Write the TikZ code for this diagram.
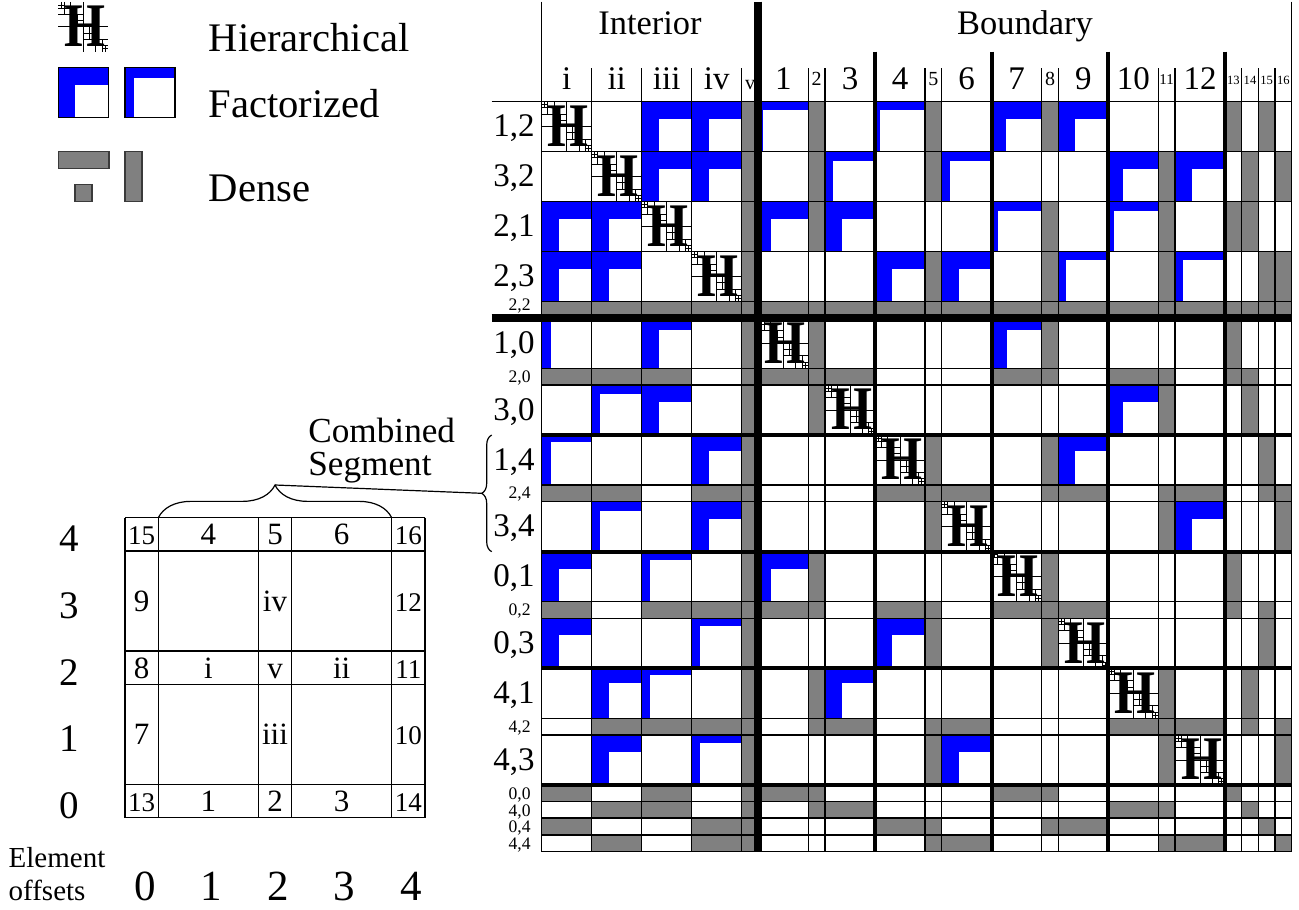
\documentclass[tikz,border=0pt]{standalone}
\usepackage{fontspec}
\setmainfont{Liberation Serif}
\usepackage{graphicx}
\usetikzlibrary{decorations.pathreplacing}
\definecolor{dgray}{HTML}{808080}
\definecolor{fblue}{HTML}{0000FF}
\definecolor{dborder}{HTML}{3A3A3A}
\tikzset{
  lbl/.style={inner sep=0pt, font=\fontsize{#1}{#1}\selectfont},
  gline/.style={line width=0.55pt, black},
  thickA/.style={line width=3.85pt, black},
  thickB/.style={line width=2pt, black},
  hpart/.style={line width=0.5pt, black},
  dense/.style={fill=dgray},
  densebox/.style={fill=dgray, draw=dborder, line width=0.6pt},
  fzbox/.style={draw=black, line width=0.6pt},
  hletter/.style={inner sep=0pt, font=\fontsize{31}{31}\selectfont\bfseries},
  bracestyle/.style={decorate, line width=0.6pt},
}
\newcommand\fz[4]{%
  \fill[fblue] (#1,#2) rectangle ++(3,3);
  \fill[white] ({#1+#4/16.667},{#2+#3/16.667}) rectangle ({#1+3},{#2+3});}
\newcommand\grow[3]{\foreach \gc/\gw in {#3}{\fill[dense] (\gc,#1) rectangle ++(\gw,#2);}}
\newcommand\hblk[3]{%
  \begin{scope}[shift={(#2,#3)}]
  \draw[hpart] (1.5,0)--(1.5,3) (0,1.5)--(3,1.5)
   (0.75,0)--(0.75,1.5) (0,0.75)--(1.5,0.75)
   (0.375,0)--(0.375,0.75) (0,0.375)--(0.75,0.375)
   (0.1875,0)--(0.1875,0.375) (0,0.1875)--(0.375,0.1875)
   (1.125,0.75)--(1.125,1.5) (0.75,1.125)--(1.5,1.125)
   (2.25,1.5)--(2.25,3) (1.5,2.25)--(3,2.25)
   (1.875,1.5)--(1.875,2.25) (1.5,1.875)--(2.25,1.875)
   (2.625,2.25)--(2.625,3) (2.25,2.625)--(3,2.625)
   (2.8125,2.625)--(2.8125,3) (2.625,2.8125)--(3,2.8125);
  \node[hletter] (#1) at (1.6,1.47) {\scalebox{0.85}[1]{H}};
  \end{scope}}
\begin{document}
\begin{tikzpicture}[x=0.5pt, y=-0.5pt]
\useasboundingbox (0,0) rectangle (1299,909);

% ---------------- legend ----------------
\begin{scope}[shift={(58.3,2)}, x=8.33333pt, y=-8.33333pt]
  \hblk{legH}{0}{0}
\end{scope}
\begin{scope}[shift={(58.3,67.7)}, x=8.33333pt, y=-8.33333pt]
  \fz{0}{0}{17}{17}
  \draw[fzbox] (0,0) rectangle (3,3);
\end{scope}
\begin{scope}[shift={(125,67.7)}, x=8.33333pt, y=-8.33333pt]
  \fz{0}{0}{10}{9}
  \draw[fzbox] (0,0) rectangle (3,3);
\end{scope}
\draw[densebox] (58.3,151.7) rectangle (109,168.3);
\draw[densebox] (75,184.3) rectangle (92,201.7);
\draw[densebox] (125,151.7) rectangle (142,201.7);
\node[lbl=20.3, anchor=base west] (tH) at (208.3,51.7) {Hierarchical};
\node[lbl=20.3, anchor=base west] (tF) at (208.3,117.3) {Factorized};
\node[lbl=20.3, anchor=base west] (tD) at (208.3,201.7) {Dense};

% ---------------- left grid ----------------
\foreach \xx in {125,158.33,258.33,291.67,391.67,425}
  \draw[gline] (\xx,517.67) -- (\xx,817.67);
\foreach \yy in {517.67,551,651,684.33,784.33,817.67}
  \draw[gline] (125,\yy) -- (425,\yy);
\foreach \xx/\yy/\t/\s in {
  141.67/544.8/15/13.5, 208.33/544.8/4/15.5, 275/544.8/5/15.5, 341.67/544.8/6/15.5, 408.33/544.8/16/13.5,
  141.67/611.5/9/15.5, 275/611.5/iv/15.5, 408.33/611.5/12/13.5,
  141.67/678.2/8/15.5, 208.33/678.2/i/15.5, 275/678.2/v/15.5, 341.67/678.2/ii/15.5, 408.33/678.2/11/13.5,
  141.67/744.8/7/15.5, 275/744.8/iii/15.5, 408.33/744.8/10/13.5,
  141.67/811.5/13/13.5, 208.33/811.5/1/15.5, 275/811.5/2/15.5, 341.67/811.5/3/15.5, 408.33/811.5/14/13.5}
  \node[lbl=\s, anchor=base] (L-\t) at (\xx,\yy) {\t};
\foreach \yy/\t in {551.6/4, 618.3/3, 685/2, 751.6/1, 818.3/0}
  \node[lbl=19.5, anchor=base] (R-\t) at (69.5,\yy) {\t};
\foreach \xx/\t in {145/0, 211.5/1, 278/2, 344.5/3, 411/4}
  \node[lbl=21.5, anchor=base] (O-\t) at (\xx,900.5) {\t};
\node[lbl=14.5, anchor=base west] (elemA) at (8.3,867.7) {Element};
\node[lbl=14.5, anchor=base west] (elemB) at (8.3,900) {offsets};
\node[lbl=17.6, anchor=base west] (combA) at (308,442.7) {Combined};
\node[lbl=17.6, anchor=base west] (combB) at (308,475) {Segment};

% braces and connector
\draw[bracestyle, decoration={brace, amplitude=16.3pt}] (158.33,517.67) -- (391.67,517.67);
\draw[bracestyle, decoration={brace, amplitude=5pt}] (491.7,551.7) -- (491.7,435);
\coordinate (tipH) at (275,485);
\coordinate (tipV) at (481.7,493.3);
\draw[line width=0.6pt] (tipH) -- (tipV);

% ---------------- matrix ----------------
\begin{scope}[shift={(541.667,101.667)}, x=8.33333pt, y=-8.33333pt]
  \fill[dense] (12,0) rectangle (13,45);
  \grow{0}{3}{16/1,23/1,30/1,41/1,43/1}
  \grow{3}{3}{16/1,23/1,37/1,42/1,44/1}
  \grow{6}{3}{16/1,30/1,37/1,41/1,42/1}
  \grow{9}{3}{23/1,30/1,37/1,43/1,44/1}
  \grow{12}{1}{0/45}
  \grow{13}{3}{16/1,30/1,41/1}
  \grow{16}{1}{0/9,13/7,27/4,34/4,41/2}
  \grow{17}{3}{16/1,37/1,42/1}
  \grow{20}{3}{23/1,30/1,43/1}
  \grow{23}{1}{0/6,9/3,20/7,30/4,37/4,43/2}
  \grow{24}{3}{23/1,37/1,44/1}
  \grow{27}{3}{16/1,30/1,41/1}
  \grow{30}{1}{0/3,6/6,13/4,20/4,27/7,41/1,43/1}
  \grow{31}{3}{23/1,30/1,43/1}
  \grow{34}{3}{16/1,37/1,42/1}
  \grow{37}{1}{3/9,16/4,23/4,34/7,42/1,44/1}
  \grow{38}{3}{23/1,37/1,44/1}
  \grow{41}{1}{0/3,6/3,13/4,27/4,41/1}
  \grow{42}{1}{3/6,16/4,34/4,42/1}
  \grow{43}{1}{0/3,9/3,20/4,30/4,43/1}
  \grow{44}{1}{3/3,9/3,23/4,37/4,44/1}

  \fz{6}{0}{17}{17} \fz{9}{0}{17}{17} \fz{13}{0}{8}{5} \fz{20}{0}{8}{5} \fz{27}{0}{17}{14} \fz{31}{0}{17}{17}
  \fz{6}{3}{17}{17} \fz{9}{3}{17}{17} \fz{17}{3}{9}{8} \fz{24}{3}{9}{8} \fz{34}{3}{17}{15} \fz{38}{3}{17}{17}
  \fz{0}{6}{17}{17} \fz{3}{6}{17}{17} \fz{13}{6}{17}{13} \fz{17}{6}{17}{17} \fz{27}{6}{9}{6} \fz{34}{6}{9}{6}
  \fz{0}{9}{17}{17} \fz{3}{9}{17}{17} \fz{20}{9}{17}{17} \fz{24}{9}{17}{17} \fz{31}{9}{8}{8} \fz{38}{9}{8}{8}
  \fz{0}{13}{4}{9} \fz{6}{13}{12}{17} \fz{27}{13}{12}{15}
  \fz{3}{17}{9}{8} \fz{6}{17}{17}{17} \fz{34}{17}{17}{15}
  \fz{0}{20}{7}{9} \fz{9}{20}{16}{17} \fz{31}{20}{16}{17}
  \fz{3}{24}{9}{8} \fz{9}{24}{17}{17} \fz{38}{24}{17}{17}
  \fz{0}{27}{17}{17} \fz{6}{27}{8}{8} \fz{13}{27}{17}{13}
  \fz{0}{31}{17}{17} \fz{9}{31}{8}{8} \fz{20}{31}{17}{17}
  \fz{3}{34}{15}{17} \fz{6}{34}{7}{8} \fz{17}{34}{15}{17}
  \fz{3}{38}{17}{17} \fz{9}{38}{8}{8} \fz{24}{38}{17}{17}

  % grid
  \foreach \p in {3,6,9,12,16,17,23,24,30,31,37,38,42,43,44}
    \draw[gline] (\p,-2) -- (\p,45);
  \draw[gline] (0,-6) -- (0,45);
  \draw[gline] (45,-6) -- (45,45);
  \foreach \p in {3,6,9,12,16,17,23,24,30,31,37,38,42,44,45}
    \draw[gline] (0,\p) -- (45,\p);
  \draw[gline] (-3,0) -- (45,0);
  \draw[line width=1.1pt] (0,43) -- (45,43);
  \draw[thickA] (13,-6) -- (13,45);
  \draw[thickA] (-3,13) -- (45,13);
  \foreach \p in {20,27,34,41} {
    \draw[thickB] (\p,-3) -- (\p,45);
    \draw[thickB] (0,\p) -- (45,\p);
  }

  % hierarchical blocks
  \hblk{H1}{0}{0} \hblk{H2}{3}{3} \hblk{H3}{6}{6} \hblk{H4}{9}{9}
  \hblk{H5}{13}{13} \hblk{H6}{17}{17} \hblk{H7}{20}{20} \hblk{H8}{24}{24}
  \hblk{H9}{27}{27} \hblk{H10}{31}{31} \hblk{H11}{34}{34} \hblk{H12}{38}{38}

  % header
  \node[lbl=17.2, anchor=base] (interior) at (6.5,-4.04) {Interior};
  \node[lbl=17.2, anchor=base] (boundary) at (29,-4.04) {Boundary};
  \foreach \xx/\t in {1.5/i, 4.5/ii, 7.5/iii, 10.5/iv, 14.5/1, 18.5/3, 21.5/4, 25.5/6, 28.5/7, 32.5/9, 35.5/10, 39.5/12}
    \node[lbl=16.5, anchor=base] (C-\t) at (\xx,-0.7) {\t};
  \node[lbl=10, anchor=base] (C-v) at (12.5,-0.7) {v};
  \foreach \xx/\t in {16.5/2, 23.5/5, 30.5/8}
    \node[lbl=10, anchor=base] (C-\t) at (\xx,-0.95) {\t};
  \node[lbl=7.5, anchor=base] (C-11) at (37.5,-1.0) {11};
  \foreach \xx/\t in {41.5/13, 42.5/14, 43.5/15, 44.5/16}
    \node[lbl=6.3, anchor=base] (C-\t) at (\xx,-1.0) {\t};

  % row labels
  \node[lbl=16.5, anchor=base east] (r12) at (-0.4,2.1) {1,2};
  \node[lbl=16.5, anchor=base east] (r32) at (-0.4,5.1) {3,2};
  \node[lbl=16.5, anchor=base east] (r21) at (-0.4,8.1) {2,1};
  \node[lbl=16.5, anchor=base east] (r23) at (-0.4,11.1) {2,3};
  \node[lbl=8.8, anchor=base east] (r22) at (-0.64,12.54) {2,2};
  \node[lbl=16.5, anchor=base east] (r10) at (-0.4,15.1) {1,0};
  \node[lbl=8.8, anchor=base east] (r20) at (-0.64,16.83) {2,0};
  \node[lbl=16.5, anchor=base east] (r30) at (-0.4,19.1) {3,0};
  \node[lbl=16.5, anchor=base east] (r14) at (-0.4,22.1) {1,4};
  \node[lbl=8.8, anchor=base east] (r24) at (-0.64,23.83) {2,4};
  \node[lbl=16.5, anchor=base east] (r34) at (-0.4,26.1) {3,4};
  \node[lbl=16.5, anchor=base east] (r01) at (-0.4,29.1) {0,1};
  \node[lbl=8.8, anchor=base east] (r02) at (-0.64,30.83) {0,2};
  \node[lbl=16.5, anchor=base east] (r03) at (-0.4,33.1) {0,3};
  \node[lbl=16.5, anchor=base east] (r41) at (-0.4,36.1) {4,1};
  \node[lbl=8.8, anchor=base east] (r42) at (-0.64,37.83) {4,2};
  \node[lbl=16.5, anchor=base east] (r43) at (-0.4,40.1) {4,3};
  \node[lbl=8.8, anchor=base east] (r00) at (-0.64,41.86) {0,0};
  \node[lbl=8.8, anchor=base east] (r40) at (-0.64,42.86) {4,0};
  \node[lbl=8.8, anchor=base east] (r04) at (-0.64,43.86) {0,4};
  \node[lbl=8.8, anchor=base east] (r44) at (-0.64,44.86) {4,4};
\end{scope}
\end{tikzpicture}
\end{document}
